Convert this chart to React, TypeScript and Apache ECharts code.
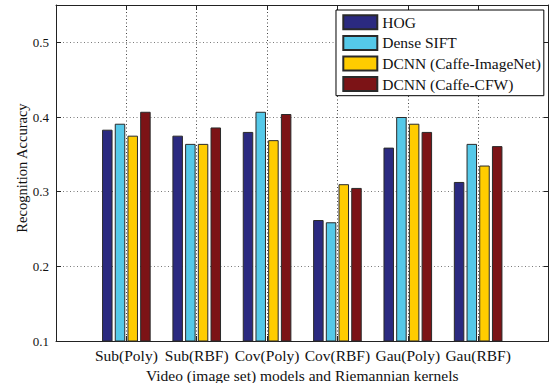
import React, { useEffect, useRef } from "react";
import * as echarts from "echarts";

const categories = ["Sub(Poly)", "Sub(RBF)", "Cov(Poly)", "Cov(RBF)", "Gau(Poly)", "Gau(RBF)"];
const seriesNames = ["HOG", "Dense SIFT", "DCNN (Caffe-ImageNet)", "DCNN (Caffe-CFW)"];
const hog = [0.383, 0.375, 0.380, 0.262, 0.359, 0.313];
const denseSift = [0.391, 0.364, 0.407, 0.259, 0.400, 0.364];
const caffeImageNet = [0.375, 0.364, 0.369, 0.310, 0.391, 0.335];
const caffeCfw = [0.407, 0.386, 0.404, 0.305, 0.380, 0.361];
const yTicks = [0.1, 0.2, 0.3, 0.4, 0.5];
const colors = ["#2b2a80", "#55c9e9", "#ffcc00", "#7c1316"];

const FONT = "Liberation Serif";

export default function App() {
  const ref = useRef<HTMLDivElement>(null);
  useEffect(() => {
    if (!ref.current) return;
    const chart = echarts.init(ref.current, undefined, { renderer: "svg" });
    const xData = ["", ...categories, ""];
    const pad = (arr: number[]) => ["-", ...arr, "-"];
    const all = [hog, denseSift, caffeImageNet, caffeCfw];
    const dottedH = { color: "#7a7a7a", width: 1, type: [1, 2.5] as any };
    const dottedV = { color: "#444444", width: 1, type: [1, 2.5] as any };
    chart.setOption({
      animation: false,
      backgroundColor: "#fff",
      textStyle: { fontFamily: FONT },
      grid: { left: 56, right: 1.5, top: 5, bottom: 42, containLabel: false, outerBoundsMode: "none" },
      legend: {
        orient: "vertical",
        left: 336,
        top: 10,
        padding: [4.3, 3, 3.6, 6.3],
        borderColor: "#000",
        borderWidth: 1,
        backgroundColor: "#fff",
        itemWidth: 34,
        itemHeight: 14,
        itemGap: 4.6,
        icon: "rect",
        textStyle: { fontFamily: FONT, fontSize: 15.5, fontWeight: "normal", color: "#111", lineHeight: 14 },
        data: seriesNames,
      },
      xAxis: [
        {
          type: "category",
          data: xData,
          boundaryGap: false,
          position: "bottom",
          axisLine: { lineStyle: { color: "#222", width: 1 } },
          axisTick: { inside: true, length: 5, interval: 0, lineStyle: { color: "#222" } },
          axisLabel: { interval: 0, margin: 6, fontFamily: FONT, fontSize: 15.5, color: "#111" },
          splitLine: { show: true, interval: 0, lineStyle: dottedV },
          name: "Video (image set) models and Riemannian kernels",
          nameLocation: "middle",
          nameGap: 26,
          nameTextStyle: { fontFamily: FONT, fontSize: 15.5, color: "#111" },
        },
        {
          type: "category",
          data: xData,
          boundaryGap: false,
          position: "top",
          axisLine: { lineStyle: { color: "#222", width: 1 } },
          axisTick: { inside: true, length: 5, interval: 0, lineStyle: { color: "#222" } },
          axisLabel: { show: false },
          splitLine: { show: false },
        },
      ],
      yAxis: [
        {
          type: "value",
          min: yTicks[0],
          max: 0.55,
          interval: 0.1,
          position: "left",
          axisLine: { show: true, lineStyle: { color: "#222", width: 1 } },
          axisTick: { show: true, inside: true, length: 5, lineStyle: { color: "#222" } },
          axisLabel: {
            margin: 7,
            fontFamily: FONT,
            fontSize: 13,
            color: "#111",
            showMaxLabel: false,
            formatter: (v: number) => (yTicks.some((t) => Math.abs(t - v) < 1e-9) ? v.toFixed(1) : ""),
          },
          splitLine: { show: true, lineStyle: dottedH },
        },
        {
          type: "value",
          min: yTicks[0],
          max: 0.55,
          interval: 0.1,
          position: "right",
          axisLine: { show: true, lineStyle: { color: "#222", width: 1 } },
          axisTick: { show: true, inside: true, length: 5, lineStyle: { color: "#222" } },
          axisLabel: { show: false },
          splitLine: { show: false },
        },
      ],
      graphic: [
        {
          type: "text",
          x: 22,
          y: 168,
          rotation: Math.PI / 2,
          style: {
            text: "Recognition Accuracy",
            fontFamily: FONT,
            fontSize: 14.5,
            fill: "#111",
            align: "center",
            verticalAlign: "middle",
          },
        },
      ],
      series: all.map((arr, i) => ({
        name: seriesNames[i],
        type: "bar",
        xAxisIndex: 0,
        yAxisIndex: 0,
        data: pad(arr),
        barWidth: 10.5,
        barGap: "21%",
        itemStyle: { color: colors[i], borderColor: "#2a2a2a", borderWidth: 1 },
      })),
    });
    return () => chart.dispose();
  }, []);
  return <div ref={ref} style={{ width: 550, height: 383, position: "absolute", left: 0, top: 0 }} />;
}
